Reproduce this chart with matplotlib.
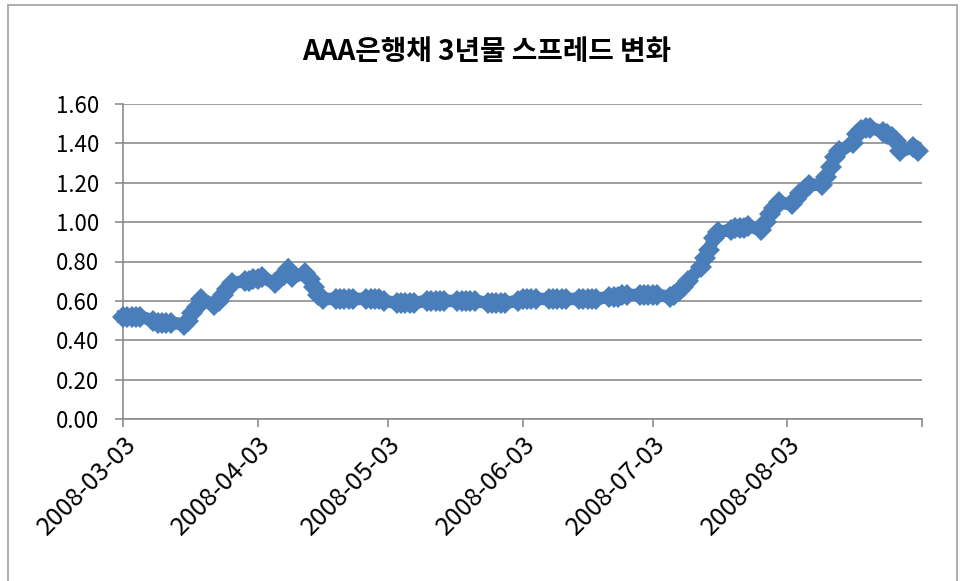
import matplotlib
matplotlib.use("Agg")
import matplotlib.pyplot as plt
import pandas as pd
from matplotlib.patches import Rectangle

plt.rcParams['font.family'] = ['Noto Sans CJK KR', 'DejaVu Sans']

title = "AAA은행채 3년물 스프레드 변화"

start_date = "2008-03-03"
end_date = "2008-09-02"

spread = [
    0.52, 0.52, 0.52, 0.52, 0.52,
    0.50, 0.49, 0.49, 0.49, 0.49,
    0.48, 0.50, 0.54, 0.57, 0.61,
    0.58, 0.60, 0.63, 0.66, 0.69,
    0.70, 0.70, 0.71, 0.71, 0.72,
    0.69, 0.71, 0.73, 0.76, 0.72,
    0.74, 0.71, 0.67, 0.63, 0.61,
    0.61, 0.61, 0.61, 0.61, 0.61,
    0.61, 0.61, 0.61, 0.61, 0.60,
    0.59, 0.59, 0.59, 0.59, 0.59,
    0.60, 0.60, 0.60, 0.60, 0.60,
    0.60, 0.60, 0.60, 0.60, 0.60,
    0.59, 0.59, 0.59, 0.59, 0.59,
    0.60, 0.61, 0.61, 0.61, 0.61,
    0.61, 0.61, 0.61, 0.61, 0.61,
    0.61, 0.61, 0.61, 0.61, 0.61,
    0.62, 0.62, 0.62, 0.63, 0.63,
    0.63, 0.63, 0.63, 0.63, 0.63,
    0.62, 0.63, 0.65, 0.67, 0.70,
    0.77, 0.82, 0.86, 0.92, 0.95,
    0.96, 0.97, 0.97, 0.97, 0.98,
    0.96, 1.00, 1.04, 1.07, 1.10,
    1.09, 1.12, 1.15, 1.17, 1.19,
    1.19, 1.23, 1.28, 1.33, 1.36,
    1.40, 1.45, 1.47, 1.48, 1.48,
    1.46, 1.45, 1.43, 1.41, 1.36,
    1.38, 1.36,
]

dates = pd.bdate_range(start_date, end_date)

y_ticks = [0.0, 0.2, 0.4, 0.6, 0.8, 1.0, 1.2, 1.4, 1.6]
x_tick_dates = ["2008-03-03", "2008-04-03", "2008-05-03", "2008-06-03",
                "2008-07-03", "2008-08-03", "2008-09-03"]
x_tick_labels = ["2008-03-03", "2008-04-03", "2008-05-03", "2008-06-03",
                 "2008-07-03", "2008-08-03", ""]

W, H = 965, 581
fig = plt.figure(figsize=(W / 100, H / 100), dpi=100)
fig.patch.set_facecolor("white")

# outer chart border
fig.patches.append(Rectangle((8 / W, -0.01), (957 - 8) / W, (H - 5) / H + 0.01,
                             transform=fig.transFigure, fill=False,
                             edgecolor="#A0A0A0", linewidth=1.2))

ax = fig.add_axes([123 / W, 1 - 419 / H, (922 - 123) / W, (419 - 104) / H])

ax.plot(dates, spread, color="#4A7EBB", linewidth=9, marker="D",
        markersize=11, markeredgewidth=0, markerfacecolor="#4A7EBB",
        clip_on=False, zorder=3, solid_joinstyle="miter")

ax.set_ylim(0, 1.6)
ax.set_yticks(y_ticks)
ax.set_yticklabels([f"{v:.2f}" for v in y_ticks], fontsize=16)
ax.set_xlim(pd.Timestamp("2008-03-03"), pd.Timestamp("2008-09-03"))
ax.set_xticks([pd.Timestamp(d) for d in x_tick_dates])
ax.set_xticklabels(x_tick_labels, fontsize=18, rotation=45, ha="right",
                   va="top", rotation_mode="anchor")

ax.grid(axis="y", color="#8C8C8C", linewidth=1.2)
ax.set_axisbelow(True)
for s in ["top", "right"]:
    ax.spines[s].set_visible(False)
for s in ["left", "bottom"]:
    ax.spines[s].set_color("#8C8C8C")
    ax.spines[s].set_linewidth(1.2)
ax.tick_params(axis="both", colors="#8C8C8C", length=6, width=1.2,
               labelcolor="black")
ax.tick_params(axis="y", pad=11)
ax.tick_params(axis="x", pad=3)

fig.text(487 / W, 1 - 52 / H, title, ha="center", va="center",
         fontsize=20, fontweight="bold")

fig.savefig("out.png", dpi=100)
